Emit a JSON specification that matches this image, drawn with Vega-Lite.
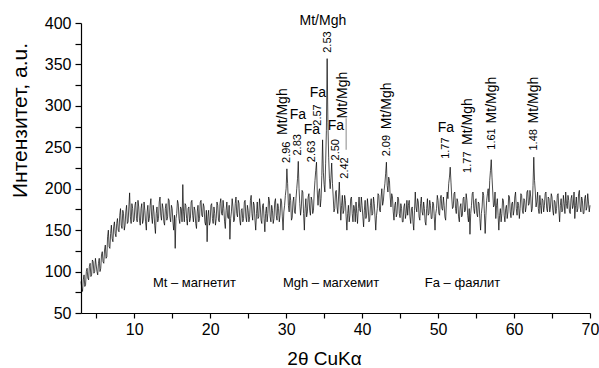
{
"$schema": "https://vega.github.io/schema/vega-lite/v6.json",
"width": 509,
"height": 290,
"autosize": {"type": "none"},
"padding": {"left": 81, "top": 23, "right": 9, "bottom": 55},
"background": "white",
"config": {"view": {"stroke": null}, "font": "Liberation Sans"},
"datasets": {
"xrd": [
{"x":3.0,"y":88},{"x":3.1,"y":80},{"x":3.2,"y":76},{"x":3.3,"y":90},{"x":3.4,"y":96},{"x":3.5,"y":82},{"x":3.6,"y":84},{"x":3.7,"y":100},{"x":3.8,"y":104},{"x":3.9,"y":92},
{"x":4.0,"y":90},{"x":4.1,"y":106},{"x":4.2,"y":110},{"x":4.3,"y":94},{"x":4.4,"y":96},{"x":4.5,"y":114},{"x":4.6,"y":112},{"x":4.7,"y":98},{"x":4.8,"y":100},{"x":4.9,"y":116},
{"x":5.0,"y":108},{"x":5.1,"y":100},{"x":5.2,"y":96},{"x":5.3,"y":110},{"x":5.4,"y":116},{"x":5.5,"y":100},{"x":5.6,"y":104},{"x":5.7,"y":120},{"x":5.8,"y":124},{"x":5.9,"y":112},
{"x":6.0,"y":110},{"x":6.1,"y":126},{"x":6.2,"y":132},{"x":6.3,"y":116},{"x":6.4,"y":118},{"x":6.5,"y":142},{"x":6.6,"y":150},{"x":6.7,"y":130},{"x":6.8,"y":128},{"x":6.9,"y":146},
{"x":7.0,"y":156},{"x":7.1,"y":140},{"x":7.2,"y":136},{"x":7.3,"y":154},{"x":7.4,"y":160},{"x":7.5,"y":146},{"x":7.6,"y":142},{"x":7.7,"y":158},{"x":7.8,"y":164},{"x":7.9,"y":150},
{"x":8.0,"y":148},{"x":8.1,"y":168},{"x":8.2,"y":176},{"x":8.3,"y":156},{"x":8.4,"y":152},{"x":8.5,"y":174},{"x":8.6,"y":170},{"x":8.7,"y":150},{"x":8.8,"y":156},{"x":8.9,"y":172},
{"x":9.0,"y":180},{"x":9.1,"y":158},{"x":9.2,"y":160},{"x":9.3,"y":178},{"x":9.4,"y":195},{"x":9.5,"y":166},{"x":9.6,"y":158},{"x":9.7,"y":182},{"x":9.8,"y":176},{"x":9.9,"y":160},
{"x":10.0,"y":162},{"x":10.1,"y":180},{"x":10.2,"y":184},{"x":10.3,"y":164},{"x":10.4,"y":160},{"x":10.5,"y":186},{"x":10.6,"y":178},{"x":10.7,"y":162},{"x":10.8,"y":156},{"x":10.9,"y":176},
{"x":11.0,"y":182},{"x":11.1,"y":158},{"x":11.2,"y":162},{"x":11.3,"y":184},{"x":11.4,"y":174},{"x":11.5,"y":160},{"x":11.6,"y":150},{"x":11.7,"y":172},{"x":11.8,"y":180},{"x":11.9,"y":160},
{"x":12.0,"y":164},{"x":12.1,"y":180},{"x":12.2,"y":188},{"x":12.3,"y":166},{"x":12.4,"y":158},{"x":12.5,"y":180},{"x":12.6,"y":172},{"x":12.7,"y":156},{"x":12.8,"y":146},{"x":12.9,"y":170},
{"x":13.0,"y":178},{"x":13.1,"y":160},{"x":13.2,"y":164},{"x":13.3,"y":184},{"x":13.4,"y":190},{"x":13.5,"y":168},{"x":13.6,"y":162},{"x":13.7,"y":182},{"x":13.8,"y":176},{"x":13.9,"y":160},
{"x":14.0,"y":156},{"x":14.1,"y":176},{"x":14.2,"y":182},{"x":14.3,"y":162},{"x":14.4,"y":166},{"x":14.5,"y":188},{"x":14.6,"y":186},{"x":14.7,"y":166},{"x":14.8,"y":160},{"x":14.9,"y":180},
{"x":15.0,"y":176},{"x":15.1,"y":160},{"x":15.2,"y":150},{"x":15.3,"y":168},{"x":15.4,"y":128},{"x":15.5,"y":164},{"x":15.6,"y":170},{"x":15.7,"y":186},{"x":15.8,"y":182},{"x":15.9,"y":164},
{"x":16.0,"y":158},{"x":16.1,"y":178},{"x":16.2,"y":176},{"x":16.3,"y":160},{"x":16.4,"y":205},{"x":16.5,"y":172},{"x":16.6,"y":160},{"x":16.7,"y":182},{"x":16.8,"y":180},{"x":16.9,"y":164},
{"x":17.0,"y":156},{"x":17.1,"y":176},{"x":17.2,"y":178},{"x":17.3,"y":160},{"x":17.4,"y":164},{"x":17.5,"y":184},{"x":17.6,"y":186},{"x":17.7,"y":168},{"x":17.8,"y":160},{"x":17.9,"y":178},
{"x":18.0,"y":174},{"x":18.1,"y":158},{"x":18.2,"y":152},{"x":18.3,"y":172},{"x":18.4,"y":180},{"x":18.5,"y":160},{"x":18.6,"y":164},{"x":18.7,"y":184},{"x":18.8,"y":186},{"x":18.9,"y":168},
{"x":19.0,"y":166},{"x":19.1,"y":182},{"x":19.2,"y":178},{"x":19.3,"y":160},{"x":19.4,"y":156},{"x":19.5,"y":174},{"x":19.6,"y":136},{"x":19.7,"y":166},{"x":19.8,"y":174},{"x":19.9,"y":156},
{"x":20.0,"y":160},{"x":20.1,"y":180},{"x":20.2,"y":182},{"x":20.3,"y":164},{"x":20.4,"y":158},{"x":20.5,"y":178},{"x":20.6,"y":170},{"x":20.7,"y":156},{"x":20.8,"y":164},{"x":20.9,"y":184},
{"x":21.0,"y":180},{"x":21.1,"y":162},{"x":21.2,"y":160},{"x":21.3,"y":182},{"x":21.4,"y":188},{"x":21.5,"y":170},{"x":21.6,"y":168},{"x":21.7,"y":186},{"x":21.8,"y":176},{"x":21.9,"y":160},
{"x":22.0,"y":152},{"x":22.1,"y":174},{"x":22.2,"y":184},{"x":22.3,"y":166},{"x":22.4,"y":164},{"x":22.5,"y":180},{"x":22.6,"y":139},{"x":22.7,"y":164},{"x":22.8,"y":172},{"x":22.9,"y":188},
{"x":23.0,"y":178},{"x":23.1,"y":160},{"x":23.2,"y":162},{"x":23.3,"y":182},{"x":23.4,"y":190},{"x":23.5,"y":170},{"x":23.6,"y":166},{"x":23.7,"y":186},{"x":23.8,"y":182},{"x":23.9,"y":162},
{"x":24.0,"y":156},{"x":24.1,"y":174},{"x":24.2,"y":176},{"x":24.3,"y":160},{"x":24.4,"y":164},{"x":24.5,"y":184},{"x":24.6,"y":186},{"x":24.7,"y":166},{"x":24.8,"y":160},{"x":24.9,"y":180},
{"x":25.0,"y":174},{"x":25.1,"y":160},{"x":25.2,"y":166},{"x":25.3,"y":186},{"x":25.4,"y":192},{"x":25.5,"y":170},{"x":25.6,"y":162},{"x":25.7,"y":184},{"x":25.8,"y":180},{"x":25.9,"y":162},
{"x":26.0,"y":150},{"x":26.1,"y":170},{"x":26.2,"y":184},{"x":26.3,"y":164},{"x":26.4,"y":166},{"x":26.5,"y":188},{"x":26.6,"y":178},{"x":26.7,"y":162},{"x":26.8,"y":158},{"x":26.9,"y":180},
{"x":27.0,"y":182},{"x":27.1,"y":164},{"x":27.2,"y":148},{"x":27.3,"y":170},{"x":27.4,"y":178},{"x":27.5,"y":160},{"x":27.6,"y":170},{"x":27.7,"y":190},{"x":27.8,"y":186},{"x":27.9,"y":166},
{"x":28.0,"y":160},{"x":28.1,"y":180},{"x":28.2,"y":174},{"x":28.3,"y":158},{"x":28.4,"y":164},{"x":28.5,"y":184},{"x":28.6,"y":188},{"x":28.7,"y":168},{"x":28.8,"y":162},{"x":28.9,"y":182},
{"x":29.0,"y":176},{"x":29.1,"y":160},{"x":29.2,"y":168},{"x":29.3,"y":188},{"x":29.4,"y":184},{"x":29.5,"y":166},{"x":29.6,"y":150},{"x":29.7,"y":172},{"x":29.8,"y":180},{"x":29.9,"y":192},
{"x":30.0,"y":200},{"x":30.1,"y":224},{"x":30.2,"y":206},{"x":30.3,"y":180},{"x":30.4,"y":172},{"x":30.5,"y":194},{"x":30.6,"y":186},{"x":30.7,"y":162},{"x":30.8,"y":165},{"x":30.9,"y":184},
{"x":31.0,"y":190},{"x":31.1,"y":172},{"x":31.2,"y":170},{"x":31.3,"y":188},{"x":31.4,"y":200},{"x":31.5,"y":212},{"x":31.6,"y":233},{"x":31.7,"y":200},{"x":31.8,"y":182},{"x":31.9,"y":168},
{"x":32.0,"y":178},{"x":32.1,"y":198},{"x":32.2,"y":196},{"x":32.3,"y":170},{"x":32.4,"y":150},{"x":32.5,"y":176},{"x":32.6,"y":188},{"x":32.7,"y":166},{"x":32.8,"y":172},{"x":32.9,"y":190},
{"x":33.0,"y":194},{"x":33.1,"y":174},{"x":33.2,"y":168},{"x":33.3,"y":190},{"x":33.4,"y":186},{"x":33.5,"y":170},{"x":33.6,"y":174},{"x":33.7,"y":196},{"x":33.8,"y":210},{"x":33.9,"y":222},
{"x":34.0,"y":232},{"x":34.1,"y":196},{"x":34.2,"y":180},{"x":34.3,"y":196},{"x":34.4,"y":200},{"x":34.5,"y":178},{"x":34.6,"y":188},{"x":34.7,"y":216},{"x":34.8,"y":259},{"x":34.9,"y":220},
{"x":35.0,"y":205},{"x":35.1,"y":196},{"x":35.2,"y":230},{"x":35.3,"y":270},{"x":35.4,"y":357},{"x":35.5,"y":280},{"x":35.6,"y":238},{"x":35.7,"y":212},{"x":35.8,"y":200},{"x":35.9,"y":214},
{"x":36.0,"y":231},{"x":36.1,"y":206},{"x":36.2,"y":190},{"x":36.3,"y":172},{"x":36.4,"y":176},{"x":36.5,"y":196},{"x":36.6,"y":198},{"x":36.7,"y":178},{"x":36.8,"y":170},{"x":36.9,"y":190},
{"x":37.0,"y":208},{"x":37.1,"y":184},{"x":37.2,"y":162},{"x":37.3,"y":180},{"x":37.4,"y":192},{"x":37.5,"y":170},{"x":37.6,"y":174},{"x":37.7,"y":192},{"x":37.8,"y":186},{"x":37.9,"y":166},
{"x":38.0,"y":150},{"x":38.1,"y":170},{"x":38.2,"y":180},{"x":38.3,"y":160},{"x":38.4,"y":168},{"x":38.5,"y":188},{"x":38.6,"y":190},{"x":38.7,"y":170},{"x":38.8,"y":160},{"x":38.9,"y":180},
{"x":39.0,"y":176},{"x":39.1,"y":160},{"x":39.2,"y":184},{"x":39.3,"y":170},{"x":39.4,"y":158},{"x":39.5,"y":176},{"x":39.6,"y":190},{"x":39.7,"y":174},{"x":39.8,"y":172},{"x":39.9,"y":190},
{"x":40.0,"y":180},{"x":40.1,"y":166},{"x":40.2,"y":154},{"x":40.3,"y":174},{"x":40.4,"y":186},{"x":40.5,"y":164},{"x":40.6,"y":168},{"x":40.7,"y":188},{"x":40.8,"y":178},{"x":40.9,"y":160},
{"x":41.0,"y":162},{"x":41.1,"y":180},{"x":41.2,"y":188},{"x":41.3,"y":168},{"x":41.4,"y":170},{"x":41.5,"y":190},{"x":41.6,"y":182},{"x":41.7,"y":166},{"x":41.8,"y":150},{"x":41.9,"y":168},
{"x":42.0,"y":176},{"x":42.1,"y":194},{"x":42.2,"y":192},{"x":42.3,"y":174},{"x":42.4,"y":172},{"x":42.5,"y":190},{"x":42.6,"y":200},{"x":42.7,"y":180},{"x":42.8,"y":185},{"x":42.9,"y":198},
{"x":43.0,"y":206},{"x":43.1,"y":218},{"x":43.2,"y":232},{"x":43.3,"y":204},{"x":43.4,"y":196},{"x":43.5,"y":214},{"x":43.6,"y":210},{"x":43.7,"y":190},{"x":43.8,"y":178},{"x":43.9,"y":194},
{"x":44.0,"y":190},{"x":44.1,"y":172},{"x":44.2,"y":162},{"x":44.3,"y":180},{"x":44.4,"y":184},{"x":44.5,"y":166},{"x":44.6,"y":170},{"x":44.7,"y":190},{"x":44.8,"y":188},{"x":44.9,"y":170},
{"x":45.0,"y":165},{"x":45.1,"y":182},{"x":45.2,"y":176},{"x":45.3,"y":160},{"x":45.4,"y":160},{"x":45.5,"y":178},{"x":45.6,"y":182},{"x":45.7,"y":164},{"x":45.8,"y":170},{"x":45.9,"y":186},
{"x":46.0,"y":168},{"x":46.1,"y":180},{"x":46.2,"y":186},{"x":46.3,"y":166},{"x":46.4,"y":158},{"x":46.5,"y":176},{"x":46.6,"y":178},{"x":46.7,"y":160},{"x":46.8,"y":150},{"x":46.9,"y":174},
{"x":47.0,"y":196},{"x":47.1,"y":178},{"x":47.2,"y":172},{"x":47.3,"y":188},{"x":47.4,"y":184},{"x":47.5,"y":166},{"x":47.6,"y":162},{"x":47.7,"y":182},{"x":47.8,"y":190},{"x":47.9,"y":172},
{"x":48.0,"y":168},{"x":48.1,"y":184},{"x":48.2,"y":176},{"x":48.3,"y":160},{"x":48.4,"y":156},{"x":48.5,"y":176},{"x":48.6,"y":188},{"x":48.7,"y":168},{"x":48.8,"y":170},{"x":48.9,"y":186},
{"x":49.0,"y":180},{"x":49.1,"y":164},{"x":49.2,"y":164},{"x":49.3,"y":184},{"x":49.4,"y":182},{"x":49.5,"y":166},{"x":49.6,"y":150},{"x":49.7,"y":170},{"x":49.8,"y":176},{"x":49.9,"y":192},
{"x":50.0,"y":186},{"x":50.1,"y":170},{"x":50.2,"y":168},{"x":50.3,"y":188},{"x":50.4,"y":192},{"x":50.5,"y":176},{"x":50.6,"y":174},{"x":50.7,"y":190},{"x":50.8,"y":180},{"x":50.9,"y":166},
{"x":51.0,"y":162},{"x":51.1,"y":184},{"x":51.2,"y":196},{"x":51.3,"y":188},{"x":51.4,"y":206},{"x":51.5,"y":214},{"x":51.6,"y":226},{"x":51.7,"y":208},{"x":51.8,"y":190},{"x":51.9,"y":176},
{"x":52.0,"y":178},{"x":52.1,"y":194},{"x":52.2,"y":196},{"x":52.3,"y":176},{"x":52.4,"y":170},{"x":52.5,"y":188},{"x":52.6,"y":184},{"x":52.7,"y":166},{"x":52.8,"y":160},{"x":52.9,"y":178},
{"x":53.0,"y":182},{"x":53.1,"y":166},{"x":53.2,"y":168},{"x":53.3,"y":188},{"x":53.4,"y":190},{"x":53.5,"y":172},{"x":53.6,"y":174},{"x":53.7,"y":194},{"x":53.8,"y":186},{"x":53.9,"y":168},
{"x":54.0,"y":160},{"x":54.1,"y":176},{"x":54.2,"y":145},{"x":54.3,"y":170},{"x":54.4,"y":180},{"x":54.5,"y":194},{"x":54.6,"y":196},{"x":54.7,"y":176},{"x":54.8,"y":170},{"x":54.9,"y":186},
{"x":55.0,"y":188},{"x":55.1,"y":170},{"x":55.2,"y":166},{"x":55.3,"y":184},{"x":55.4,"y":182},{"x":55.5,"y":164},{"x":55.6,"y":150},{"x":55.7,"y":170},{"x":55.8,"y":178},{"x":55.9,"y":196},
{"x":56.0,"y":192},{"x":56.1,"y":170},{"x":56.2,"y":146},{"x":56.3,"y":168},{"x":56.4,"y":186},{"x":56.5,"y":194},{"x":56.6,"y":200},{"x":56.7,"y":184},{"x":56.8,"y":210},{"x":56.9,"y":222},
{"x":57.0,"y":235},{"x":57.1,"y":214},{"x":57.2,"y":196},{"x":57.3,"y":178},{"x":57.4,"y":180},{"x":57.5,"y":196},{"x":57.6,"y":164},{"x":57.7,"y":180},{"x":57.8,"y":188},{"x":57.9,"y":168},
{"x":58.0,"y":150},{"x":58.1,"y":168},{"x":58.2,"y":176},{"x":58.3,"y":160},{"x":58.4,"y":170},{"x":58.5,"y":188},{"x":58.6,"y":186},{"x":58.7,"y":168},{"x":58.8,"y":160},{"x":58.9,"y":176},
{"x":59.0,"y":180},{"x":59.1,"y":164},{"x":59.2,"y":172},{"x":59.3,"y":192},{"x":59.4,"y":190},{"x":59.5,"y":172},{"x":59.6,"y":165},{"x":59.7,"y":182},{"x":59.8,"y":184},{"x":59.9,"y":168},
{"x":60.0,"y":174},{"x":60.1,"y":190},{"x":60.2,"y":196},{"x":60.3,"y":176},{"x":60.4,"y":168},{"x":60.5,"y":184},{"x":60.6,"y":180},{"x":60.7,"y":164},{"x":60.8,"y":176},{"x":60.9,"y":194},
{"x":61.0,"y":192},{"x":61.1,"y":174},{"x":61.2,"y":170},{"x":61.3,"y":188},{"x":61.4,"y":186},{"x":61.5,"y":172},{"x":61.6,"y":178},{"x":61.7,"y":196},{"x":61.8,"y":198},{"x":61.9,"y":180},
{"x":62.0,"y":182},{"x":62.1,"y":198},{"x":62.2,"y":190},{"x":62.3,"y":172},{"x":62.4,"y":176},{"x":62.5,"y":204},{"x":62.6,"y":238},{"x":62.7,"y":210},{"x":62.8,"y":196},{"x":62.9,"y":178},
{"x":63.0,"y":184},{"x":63.1,"y":196},{"x":63.2,"y":176},{"x":63.3,"y":170},{"x":63.4,"y":192},{"x":63.5,"y":180},{"x":63.6,"y":170},{"x":63.7,"y":188},{"x":63.8,"y":186},{"x":63.9,"y":172},
{"x":64.0,"y":180},{"x":64.1,"y":194},{"x":64.2,"y":196},{"x":64.3,"y":176},{"x":64.4,"y":172},{"x":64.5,"y":190},{"x":64.6,"y":188},{"x":64.7,"y":172},{"x":64.8,"y":178},{"x":64.9,"y":194},
{"x":65.0,"y":190},{"x":65.1,"y":174},{"x":65.2,"y":168},{"x":65.3,"y":186},{"x":65.4,"y":184},{"x":65.5,"y":170},{"x":65.6,"y":176},{"x":65.7,"y":192},{"x":65.8,"y":194},{"x":65.9,"y":174},
{"x":66.0,"y":160},{"x":66.1,"y":180},{"x":66.2,"y":188},{"x":66.3,"y":172},{"x":66.4,"y":174},{"x":66.5,"y":192},{"x":66.6,"y":182},{"x":66.7,"y":170},{"x":66.8,"y":196},{"x":66.9,"y":182},
{"x":67.0,"y":176},{"x":67.1,"y":192},{"x":67.2,"y":186},{"x":67.3,"y":172},{"x":67.4,"y":170},{"x":67.5,"y":188},{"x":67.6,"y":192},{"x":67.7,"y":176},{"x":67.8,"y":180},{"x":67.9,"y":196},
{"x":68.0,"y":164},{"x":68.1,"y":180},{"x":68.2,"y":190},{"x":68.3,"y":172},{"x":68.4,"y":176},{"x":68.5,"y":194},{"x":68.6,"y":198},{"x":68.7,"y":178},{"x":68.8,"y":172},{"x":68.9,"y":190},
{"x":69.0,"y":186},{"x":69.1,"y":170},{"x":69.2,"y":170},{"x":69.3,"y":188},{"x":69.4,"y":192},{"x":69.5,"y":174},{"x":69.6,"y":178},{"x":69.7,"y":194},{"x":69.8,"y":184},{"x":69.9,"y":172},
{"x":70.0,"y":180}
],
"dnums": [
{"x":30.1,"y":244,"label":"2.96"},{"x":31.55,"y":253,"label":"2.83"},{"x":33.4,"y":245,"label":"2.63"},{"x":34.18,"y":289,"label":"2.57"},{"x":35.5,"y":377,"label":"2.53"},{"x":36.55,"y":247,"label":"2.50"},{"x":37.74,"y":225,"label":"2.42"},{"x":43.26,"y":252,"label":"2.09"},{"x":51.03,"y":249,"label":"1.77"},{"x":53.92,"y":232,"label":"1.77"},{"x":57.08,"y":260,"label":"1.61"},{"x":62.6,"y":259,"label":"1.48"}
],
"phaserot": [
{"x":29.58,"y":293,"label":"Mt/Mgh"},{"x":37.47,"y":313,"label":"Mt/Mgh"},{"x":43.26,"y":300,"label":"Mt/Mgh"},{"x":53.92,"y":281,"label":"Mt/Mgh"},{"x":57.08,"y":307,"label":"Mt/Mgh"},{"x":62.6,"y":307,"label":"Mt/Mgh"}
],
"phasehor": [
{"x":34.84,"y":402,"label":"Mt/Mgh"},{"x":31.55,"y":289,"label":"Fa"},{"x":33.4,"y":271,"label":"Fa"},{"x":34.18,"y":315,"label":"Fa"},{"x":36.55,"y":276,"label":"Fa"},{"x":51.03,"y":273,"label":"Fa"}
],
"legendtext": [
{"x":12.47,"y":86,"label":"Mt – магнетит"},{"x":29.58,"y":86,"label":"Mgh – магхемит"},{"x":48.26,"y":86,"label":"Fa – фаялит"}
],
"marker": [
{"x":37.9,"y":247,"y2":285}
]
},
"encoding": {
"x": {"field": "x", "type": "quantitative", "scale": {"domain": [3, 70], "nice": false, "zero": false},
 "axis": {"title": "2θ CuKα", "values": [5,10,15,20,25,30,35,40,45,50,55,60,65,70],
  "labelExpr": "datum.value % 10 === 0 ? datum.label : ''", "grid": false, "tickSize": 5, "tickColor": "black", "domainColor": "black", "domainWidth": 1.2, "tickWidth": 1.2,
  "labelFont": "Liberation Sans", "labelFontSize": 16, "labelColor": "black", "labelPadding": 3, "labelFlush": false, "labelOverlap": false,
  "titleFont": "Liberation Sans", "titleFontSize": 19, "titleFontWeight": "normal", "titleColor": "black", "titleX": 243, "titleY": 51, "titleBaseline": "alphabetic"}},
"y": {"field": "y", "type": "quantitative", "scale": {"domain": [50, 400], "nice": false, "zero": false},
 "axis": {"title": "Интензитет, a.u.", "values": [50,75,100,125,150,175,200,225,250,275,300,325,350,375,400],
  "labelExpr": "datum.value % 50 === 0 ? datum.label : ''", "grid": false, "tickSize": 6, "tickColor": "black", "domainColor": "black", "domainWidth": 1.2, "tickWidth": 1.2,
  "labelFont": "Liberation Sans", "labelFontSize": 16, "labelColor": "black", "labelPadding": 4, "labelOverlap": false,
  "titleFont": "Liberation Sans", "titleFontSize": 21, "titleFontWeight": "normal", "titleColor": "black", "titleX": -55, "titleY": 97, "titleBaseline": "alphabetic", "titleAlign": "center"}}
},
"layer": [
{"data": {"name": "xrd"}, "mark": {"type": "line", "color": "black", "strokeWidth": 0.7, "interpolate": "linear"}},
{"data": {"name": "marker"}, "mark": {"type": "rule", "color": "#8a8a8a", "strokeWidth": 1}, "encoding": {"y2": {"field": "y2"}}},
{"data": {"name": "dnums"}, "mark": {"type": "text", "angle": 270, "align": "center", "baseline": "middle", "fontSize": 11, "color": "black", "font": "Liberation Sans"}, "encoding": {"text": {"field": "label"}}},
{"data": {"name": "phaserot"}, "mark": {"type": "text", "angle": 270, "align": "center", "baseline": "middle", "fontSize": 14, "color": "black", "font": "Liberation Sans"}, "encoding": {"text": {"field": "label"}}},
{"data": {"name": "phasehor"}, "mark": {"type": "text", "align": "center", "baseline": "middle", "fontSize": 14, "color": "black", "font": "Liberation Sans"}, "encoding": {"text": {"field": "label"}}},
{"data": {"name": "legendtext"}, "mark": {"type": "text", "align": "left", "baseline": "middle", "fontSize": 13, "color": "black", "font": "Liberation Sans"}, "encoding": {"text": {"field": "label"}}}
]
}
